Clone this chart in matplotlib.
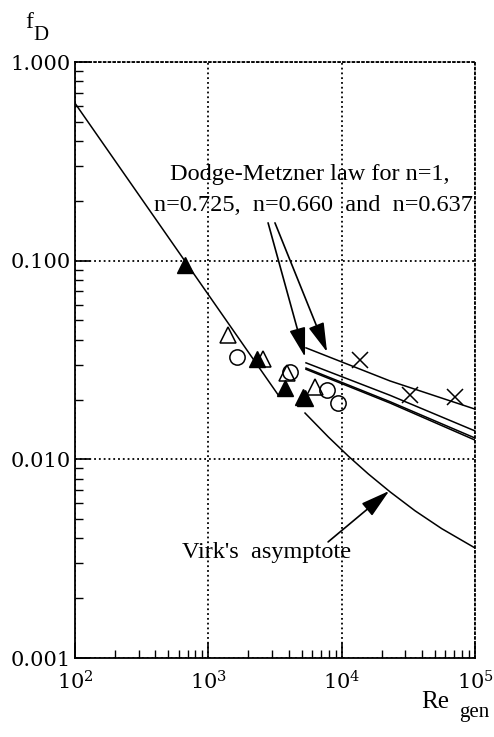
import matplotlib
matplotlib.use('Agg')
import matplotlib.pyplot as plt

plt.rcParams['mathtext.fontset'] = 'dejavuserif'

# laminar line and Virk's maximum drag reduction asymptote
laminar_re = [100, 3340]
laminar_f = [0.62, 0.0211]
virk_re = [5310, 7943, 11220, 15850, 23070, 35480, 56230, 100000]
virk_f = [0.0171, 0.01296, 0.01038, 0.00844, 0.00686, 0.00551, 0.00448, 0.00358]

# Dodge-Metzner curves
dm_re = [5400, 23070, 100000]
dm_n1_f = [0.0364, 0.0248, 0.0179]
dm_n0725_f = [0.0306, 0.0210, 0.0139]
dm_n0660_f = [0.0288, 0.0195, 0.0128]
dm_n0637_f = [0.0284, 0.0192, 0.0125]

# measured points
tri_filled_re = [668, 2317, 3760, 5130, 5350]
tri_filled_f = [0.0951, 0.0320, 0.0229, 0.0206, 0.0203]
tri_open_re = [1406, 2570, 3890, 6310]
tri_open_f = [0.0423, 0.0320, 0.0272, 0.0231]
circ_re = [1641, 4100, 7770, 9400]
circ_f = [0.0328, 0.0275, 0.0223, 0.0192]
cross_re = [13740, 32600, 70900]
cross_f = [0.0316, 0.0211, 0.0206]

xticks = [1e2, 1e3, 1e4, 1e5]
xticklabels = [r'$10^{2}$', r'$10^{3}$', r'$10^{4}$', r'$10^{5}$']
yticks = [0.001, 0.01, 0.1, 1.0]
yticklabels = ['0.001', '0.010', '0.100', '1.000']

W, H = 494, 737
fig = plt.figure(figsize=(W / 100, H / 100), dpi=100)
ax = fig.add_axes([75 / W, 1 - 658 / H, 400 / W, 596 / H])
ax.set_xscale('log')
ax.set_yscale('log')
ax.set_xlim(1e2, 1e5)
ax.set_ylim(1e-3, 1.0)

lw = 1.1
ax.plot(laminar_re, laminar_f, color='black', lw=lw)
ax.plot(virk_re, virk_f, color='black', lw=lw)
ax.plot(dm_re, dm_n1_f, color='black', lw=lw)
ax.plot(dm_re, dm_n0725_f, color='black', lw=lw)
ax.plot(dm_re, dm_n0660_f, color='black', lw=lw)
ax.plot(dm_re, dm_n0637_f, color='black', lw=lw)

ms = 11
ax.plot(circ_re, circ_f, 'o', ms=ms, mfc='none', mec='black', mew=1.1)
ax.plot(tri_open_re, tri_open_f, '^', ms=ms, mfc='none', mec='black', mew=1.1)
ax.plot(tri_filled_re, tri_filled_f, '^', ms=ms, mfc='black', mec='black')
ax.plot(cross_re, cross_f, 'x', ms=ms + 1, mec='black', mew=1.1)

serif = 'Liberation Serif'
arrow = dict(arrowstyle='-|>,head_length=0.9,head_width=0.25', mutation_scale=20,
             lw=1.2, color='black', shrinkA=0, shrinkB=0)
ax.annotate('', xy=(5310, 0.0328), xytext=(2806, 0.155), arrowprops=arrow)
ax.annotate('', xy=(7770, 0.0347), xytext=(3160, 0.155), arrowprops=arrow)
ax.annotate('', xy=(22700, 0.00693), xytext=(7910, 0.00384), arrowprops=arrow)

ax.text(5800, 0.27, 'Dodge-Metzner law for n=1,', family=serif, fontsize=17.5,
        ha='center', va='center')
ax.text(6100, 0.19, 'n=0.725,  n=0.660  and  n=0.637', family=serif, fontsize=17.5,
        ha='center', va='center')
ax.text(2710, 0.00338, "Virk's  asymptote", family=serif, fontsize=17.5,
        ha='center', va='center')

# dotted decade grid, dotted top/right frame
ax.grid(which='major', linestyle=':', color='black', lw=1.3)
for side in ['top', 'right']:
    ax.spines[side].set_linestyle(':')
    ax.spines[side].set_linewidth(1.3)
for side in ['left', 'bottom']:
    ax.spines[side].set_linewidth(1.3)

ax.set_xticks(xticks)
ax.set_xticklabels(xticklabels)
ax.set_yticks(yticks)
ax.set_yticklabels(yticklabels)
ax.tick_params(which='major', direction='in', length=11, width=1.2, labelsize=15, color='black')
ax.tick_params(which='minor', direction='in', length=6, width=1.0)
ax.tick_params(axis='x', which='major', pad=9)
ax.tick_params(axis='y', which='major', pad=3)
for lab in ax.get_yticklabels():
    lab.set_family('DejaVu Serif')

fig.text(25 / W, 1 - 22 / H, 'f', family=serif, fontsize=17, ha='left', va='center')
fig.text(33 / W, 1 - 35 / H, 'D', family=serif, fontsize=15, ha='left', va='center')
fig.text(421 / W, 1 - 702 / H, 'Re', family=serif, fontsize=18, ha='left', va='center')
fig.text(459 / W, 1 - 712 / H, 'gen', family=serif, fontsize=15, ha='left', va='center')

fig.savefig('out.png', dpi=100)
